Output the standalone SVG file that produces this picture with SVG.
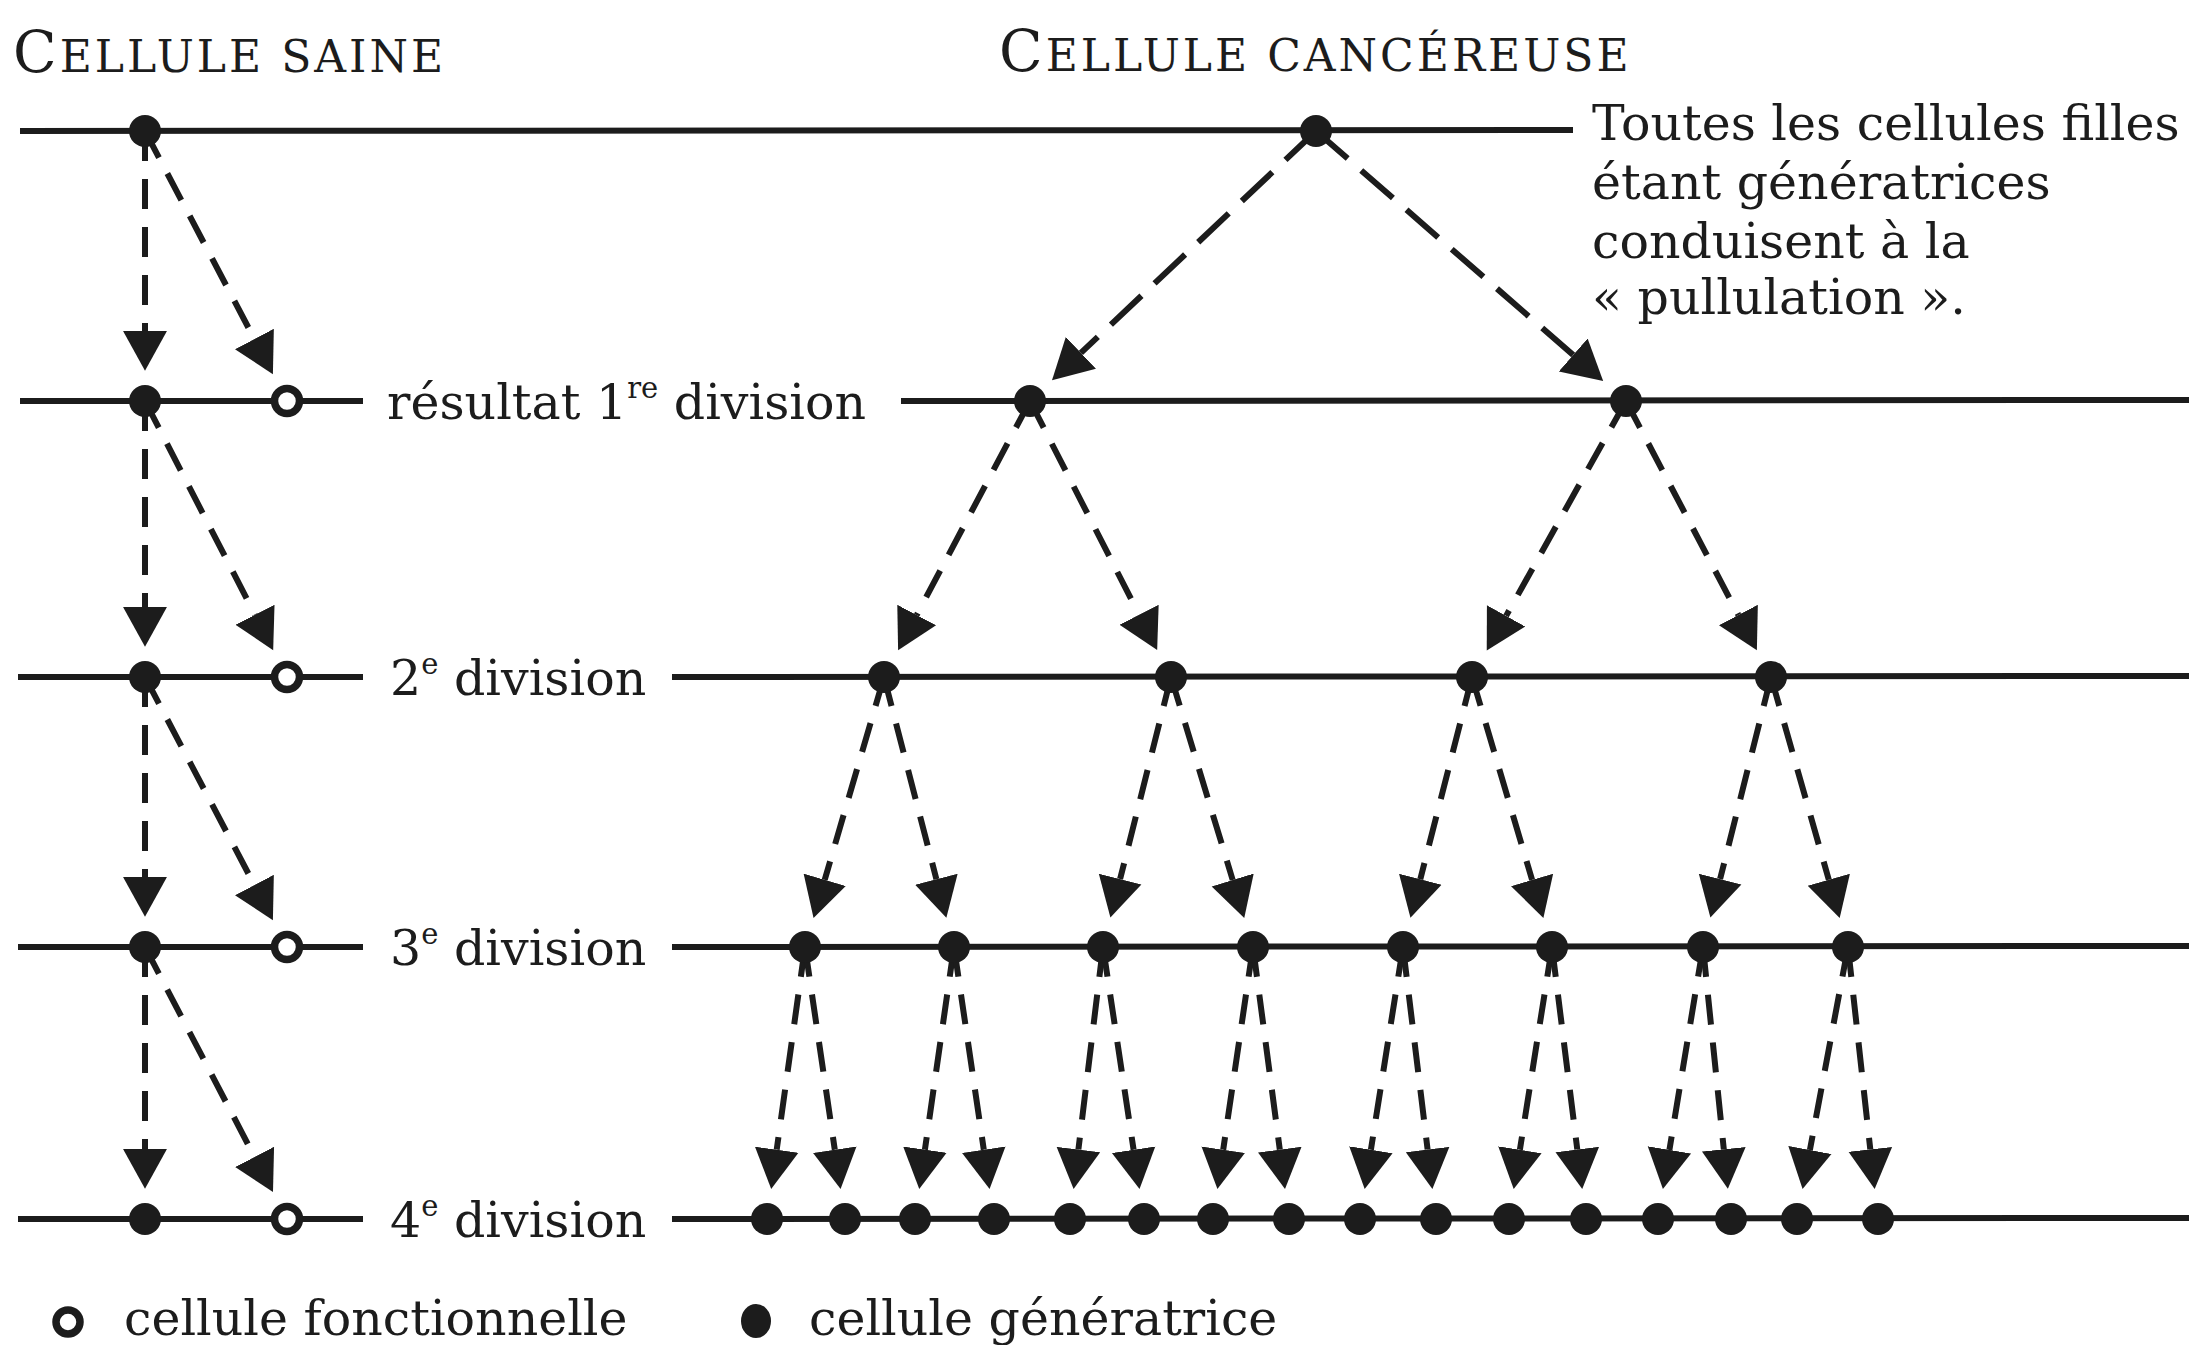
<svg xmlns="http://www.w3.org/2000/svg" width="2207" height="1345" viewBox="0 0 2207 1345">
<style>
  text { font-family: "DejaVu Serif", "Liberation Serif", serif; fill: #1c1c1c; }
  .lbl { font-size: 49px; }
  .sup { font-size: 29px; }
  .title { font-size: 44px; letter-spacing: 3px; }
  .cap1 { font-size: 57px; }
  .hline { stroke: #1c1c1c; stroke-width: 6; fill: none; }
  .arr { stroke: #1c1c1c; stroke-width: 6; fill: none; stroke-dasharray: 30 18; marker-end: url(#head); }
  .arrL { stroke: #1c1c1c; stroke-width: 6; fill: none; stroke-dasharray: 42 18; marker-end: url(#head); }
  .gen { fill: #1c1c1c; }
  .fon { fill: #fff; stroke: #1c1c1c; stroke-width: 7.5; }
</style>
<defs>
  <marker id="head" markerUnits="userSpaceOnUse" markerWidth="44" markerHeight="46" viewBox="0 -22 42 44" refX="0" refY="0" orient="auto">
    <path d="M0,-21 L38,0 L0,21 Z" fill="#1c1c1c" stroke="none"/>
  </marker>
</defs>
<rect width="2207" height="1345" fill="#fff"/>

<g id="titles">
  <text class="title" x="13" y="72"><tspan class="cap1">C</tspan>ELLULE SAINE</text>
  <text class="title" x="999" y="71"><tspan class="cap1">C</tspan>ELLULE CANCÉREUSE</text>
</g>

<g id="lines">
  <line class="hline" x1="20" y1="131" x2="1573" y2="130"/>
  <line class="hline" x1="20" y1="401" x2="363" y2="401"/>
  <line class="hline" x1="901" y1="401" x2="2189" y2="400"/>
  <line class="hline" x1="18" y1="677" x2="363" y2="677"/>
  <line class="hline" x1="672" y1="677" x2="2189" y2="676"/>
  <line class="hline" x1="18" y1="947" x2="363" y2="947"/>
  <line class="hline" x1="672" y1="947" x2="2189" y2="946"/>
  <line class="hline" x1="18" y1="1219" x2="363" y2="1219"/>
  <line class="hline" x1="672" y1="1219" x2="2189" y2="1218"/>
</g>

<g id="labels">
  <text class="lbl" x="387" y="419">résultat 1<tspan class="sup" dy="-21">re</tspan><tspan dy="21"> division</tspan></text>
  <text class="lbl" x="390" y="695">2<tspan class="sup" dy="-21">e</tspan><tspan dy="21"> division</tspan></text>
  <text class="lbl" x="390" y="965">3<tspan class="sup" dy="-21">e</tspan><tspan dy="21"> division</tspan></text>
  <text class="lbl" x="390" y="1237">4<tspan class="sup" dy="-21">e</tspan><tspan dy="21"> division</tspan></text>
</g>

<g id="note">
  <text class="lbl" x="1592" y="140">Toutes les cellules filles</text>
  <text class="lbl" x="1592" y="199">étant génératrices</text>
  <text class="lbl" x="1592" y="258">conduisent à la</text>
  <text class="lbl" x="1592" y="314">« pullulation ».</text>
</g>

<g id="connectors">
  <!-- healthy cell column -->
  <line class="arr" x1="145" y1="131" x2="145" y2="331"/>
  <line class="arr" x1="145" y1="131" x2="254.4" y2="339.0"/>
  <line class="arr" x1="145" y1="401" x2="145" y2="607"/>
  <line class="arr" x1="145" y1="401" x2="255.0" y2="614.8"/>
  <line class="arr" x1="145" y1="677" x2="145" y2="877"/>
  <line class="arr" x1="145" y1="677" x2="254.4" y2="885.0"/>
  <line class="arr" x1="145" y1="947" x2="145" y2="1149"/>
  <line class="arr" x1="145" y1="947" x2="254.6" y2="1156.9"/>
  <!-- cancer: level 0 to 1 -->
  <line class="arrL" x1="1316" y1="131" x2="1080.9" y2="352.9"/>
  <line class="arrL" x1="1316" y1="131" x2="1573.2" y2="355.0"/>
  <!-- level 1 to 2 -->
  <line class="arr" x1="1030" y1="401" x2="916.7" y2="615.1"/>
  <line class="arr" x1="1030" y1="401" x2="1139.1" y2="614.7"/>
  <line class="arr" x1="1626" y1="401" x2="1506.1" y2="615.9"/>
  <line class="arr" x1="1626" y1="401" x2="1738.4" y2="615.0"/>
  <!-- level 2 to 3 -->
  <line class="arr" x1="884" y1="677" x2="824.7" y2="879.8"/>
  <line class="arr" x1="884" y1="677" x2="936.4" y2="879.2"/>
  <line class="arr" x1="1171" y1="677" x2="1120.1" y2="879.1"/>
  <line class="arr" x1="1171" y1="677" x2="1232.7" y2="880.0"/>
  <line class="arr" x1="1472" y1="677" x2="1420.3" y2="879.2"/>
  <line class="arr" x1="1472" y1="677" x2="1532.1" y2="879.9"/>
  <line class="arr" x1="1771" y1="677" x2="1720.1" y2="879.1"/>
  <line class="arr" x1="1771" y1="677" x2="1828.8" y2="879.7"/>
  <!-- level 3 to 4 -->
  <line class="arr" x1="805" y1="947" x2="776.7" y2="1149.7"/>
  <line class="arr" x1="805" y1="947" x2="834.8" y2="1149.7"/>
  <line class="arr" x1="954" y1="947" x2="924.9" y2="1149.7"/>
  <line class="arr" x1="954" y1="947" x2="983.8" y2="1149.7"/>
  <line class="arr" x1="1103" y1="947" x2="1078.4" y2="1149.5"/>
  <line class="arr" x1="1103" y1="947" x2="1133.6" y2="1149.8"/>
  <line class="arr" x1="1253" y1="947" x2="1223.2" y2="1149.7"/>
  <line class="arr" x1="1253" y1="947" x2="1279.8" y2="1149.6"/>
  <line class="arr" x1="1403" y1="947" x2="1370.9" y2="1149.8"/>
  <line class="arr" x1="1403" y1="947" x2="1427.6" y2="1149.5"/>
  <line class="arr" x1="1552" y1="947" x2="1519.9" y2="1149.8"/>
  <line class="arr" x1="1552" y1="947" x2="1577.3" y2="1149.5"/>
  <line class="arr" x1="1703" y1="947" x2="1669.4" y2="1149.9"/>
  <line class="arr" x1="1703" y1="947" x2="1723.8" y2="1149.3"/>
  <line class="arr" x1="1848" y1="947" x2="1809.9" y2="1150.0"/>
  <line class="arr" x1="1848" y1="947" x2="1870.3" y2="1149.4"/>
</g>

<g id="healthy-nodes">
  <circle id="h0" class="gen" cx="145" cy="131" r="16"/>
  <circle id="h1g" class="gen" cx="145" cy="401" r="16"/>
  <circle id="h1f" class="fon" cx="287" cy="401" r="12.5"/>
  <circle id="h2g" class="gen" cx="145" cy="677" r="16"/>
  <circle id="h2f" class="fon" cx="287" cy="677" r="12.5"/>
  <circle id="h3g" class="gen" cx="145" cy="947" r="16"/>
  <circle id="h3f" class="fon" cx="287" cy="947" r="12.5"/>
  <circle id="h4g" class="gen" cx="145" cy="1219" r="16"/>
  <circle id="h4f" class="fon" cx="287" cy="1219" r="12.5"/>
</g>

<g id="cancer-nodes">
  <circle id="c0" class="gen" cx="1316" cy="131" r="16"/>
  <circle id="c1a" class="gen" cx="1030" cy="401" r="16"/>
  <circle id="c1b" class="gen" cx="1626" cy="401" r="16"/>
  <circle id="c2a" class="gen" cx="884" cy="677" r="16"/>
  <circle id="c2b" class="gen" cx="1171" cy="677" r="16"/>
  <circle id="c2c" class="gen" cx="1472" cy="677" r="16"/>
  <circle id="c2d" class="gen" cx="1771" cy="677" r="16"/>
  <circle id="c3a" class="gen" cx="805" cy="947" r="16"/>
  <circle id="c3b" class="gen" cx="954" cy="947" r="16"/>
  <circle id="c3c" class="gen" cx="1103" cy="947" r="16"/>
  <circle id="c3d" class="gen" cx="1253" cy="947" r="16"/>
  <circle id="c3e" class="gen" cx="1403" cy="947" r="16"/>
  <circle id="c3f" class="gen" cx="1552" cy="947" r="16"/>
  <circle id="c3g" class="gen" cx="1703" cy="947" r="16"/>
  <circle id="c3h" class="gen" cx="1848" cy="947" r="16"/>
  <circle id="c4a" class="gen" cx="767" cy="1219" r="16"/>
  <circle id="c4b" class="gen" cx="845" cy="1219" r="16"/>
  <circle id="c4c" class="gen" cx="915" cy="1219" r="16"/>
  <circle id="c4d" class="gen" cx="994" cy="1219" r="16"/>
  <circle id="c4e" class="gen" cx="1070" cy="1219" r="16"/>
  <circle id="c4f" class="gen" cx="1144" cy="1219" r="16"/>
  <circle id="c4g" class="gen" cx="1213" cy="1219" r="16"/>
  <circle id="c4h" class="gen" cx="1289" cy="1219" r="16"/>
  <circle id="c4i" class="gen" cx="1360" cy="1219" r="16"/>
  <circle id="c4j" class="gen" cx="1436" cy="1219" r="16"/>
  <circle id="c4k" class="gen" cx="1509" cy="1219" r="16"/>
  <circle id="c4l" class="gen" cx="1586" cy="1219" r="16"/>
  <circle id="c4m" class="gen" cx="1658" cy="1219" r="16"/>
  <circle id="c4n" class="gen" cx="1731" cy="1219" r="16"/>
  <circle id="c4o" class="gen" cx="1797" cy="1219" r="16"/>
  <circle id="c4p" class="gen" cx="1878" cy="1219" r="16"/>
</g>

<g id="legend">
  <circle class="fon" cx="68" cy="1322" r="12"/>
  <text class="lbl" x="124" y="1335">cellule fonctionnelle</text>
  <ellipse class="gen" cx="756" cy="1321" rx="15" ry="17"/>
  <text class="lbl" x="809" y="1335">cellule génératrice</text>
</g>
</svg>
